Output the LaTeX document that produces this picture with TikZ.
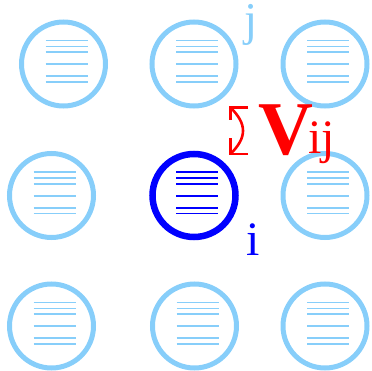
\documentclass[tikz,border=0pt]{standalone}
\usepackage{fontspec}
\setmainfont{Liberation Serif}
\definecolor{lblue}{RGB}{135,206,250}
\definecolor{pblue}{RGB}{0,0,255}
\definecolor{pred}{RGB}{255,0,0}
\tikzset{
  site/.style={circle, draw=lblue, line width=5pt, minimum size=84pt, inner sep=0pt},
  siteB/.style={circle, draw=pblue, line width=6.5pt, minimum size=83pt, inner sep=0pt},
  lev/.style={line width=1.8pt},
  lbl/.style={inner sep=0pt, anchor=base},
  coupling/.style={pred, line width=2.6pt},
}
\newcommand{\levels}[2]{%
  \foreach \dy in {23.5,17.5,11.8,-0.2,-12.2,-18}{
    \draw[lev,#2] ([xshift=-18pt,yshift=\dy pt]#1.center) -- ([xshift=24pt,yshift=\dy pt]#1.center);
  }%
}
\begin{document}
\begin{tikzpicture}[x=1pt,y=1pt]
\useasboundingbox (0,0) rectangle (372,-371);
% top row
\node[site] (t1) at (63.5,-64) {};
\node[site] (t2) at (194,-64) {};
\node[site] (t3) at (325,-64) {};
% middle row
\node[site] (m1) at (51.5,-195.5) {};
\node[siteB] (m2) at (194,-195.5) {};
\node[site] (m3) at (325,-195.5) {};
% bottom row
\node[site] (b1) at (51.5,-326) {};
\node[site] (b2) at (194.5,-326) {};
\node[site] (b3) at (325,-326) {};
\levels{t1}{lblue}
\levels{t2}{lblue}
\levels{t3}{lblue}
\levels{m1}{lblue}
\levels{m2}{pblue}
\levels{m3}{lblue}
\levels{b1}{lblue}
\levels{b2}{lblue}
\levels{b3}{lblue}
% labels
\node[lbl, text=lblue, font=\fontsize{47}{47}\selectfont] (lj) at (251,-35.5) {j};
\node[lbl, text=pblue, font=\fontsize{48}{48}\selectfont] (li) at (253,-256) {i};
\node[lbl, text=pred, font=\fontsize{76}{76}\selectfont\bfseries] (lV) at (286,-155) {V};
\node[lbl, text=pred, font=\fontsize{48}{48}\selectfont] (lij) at (321.5,-154) {ij};
% double-headed coupling arrow
\coordinate (a1) at (230.5,-107.5);
\coordinate (a2) at (230.5,-154);
\draw[coupling] (a1) to[out=-45,in=45,looseness=1.3] (a2);
\draw[coupling, line join=miter] ([xshift=17.5pt]a1) -- (a1) -- ([yshift=-13pt]a1);
\draw[coupling, line join=miter] ([xshift=17.5pt]a2) -- (a2) -- ([yshift=16pt]a2);
\end{tikzpicture}
\end{document}
